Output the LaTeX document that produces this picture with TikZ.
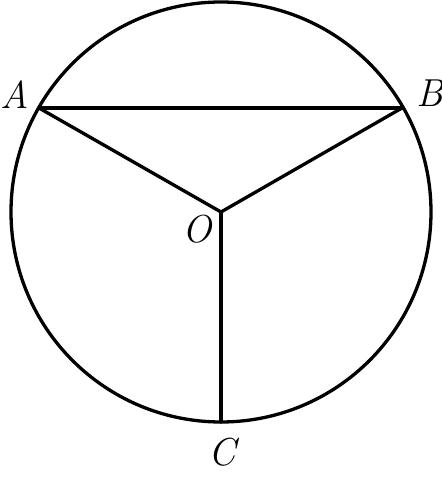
\documentclass[tikz,border=0pt]{standalone}
\begin{document}
\begin{tikzpicture}[x=1pt,y=1pt,
  seg/.style={line width=3.3pt,line cap=round,line join=round},
  lbl/.style={inner sep=0pt,font=\fontsize{39}{46}\selectfont\itshape}]
\useasboundingbox (0,0) rectangle (442,480);
\coordinate (O) at (221,268);
\coordinate (A) at (39,372);
\coordinate (B) at (402,372);
\coordinate (C) at (221,58);
\draw[seg] (O) circle[radius=210];
\draw[seg] (A) -- (B);
\draw[seg] (A) -- (O) -- (B);
\draw[seg] (O) -- (C);
\node[lbl] (la) at (15,385) {A};
\node[lbl] (lb) at (430,387) {B};
\node[lbl] (lo) at (197,251) {O};
\node[lbl] (lc) at (222,28) {C};
\end{tikzpicture}
\end{document}
